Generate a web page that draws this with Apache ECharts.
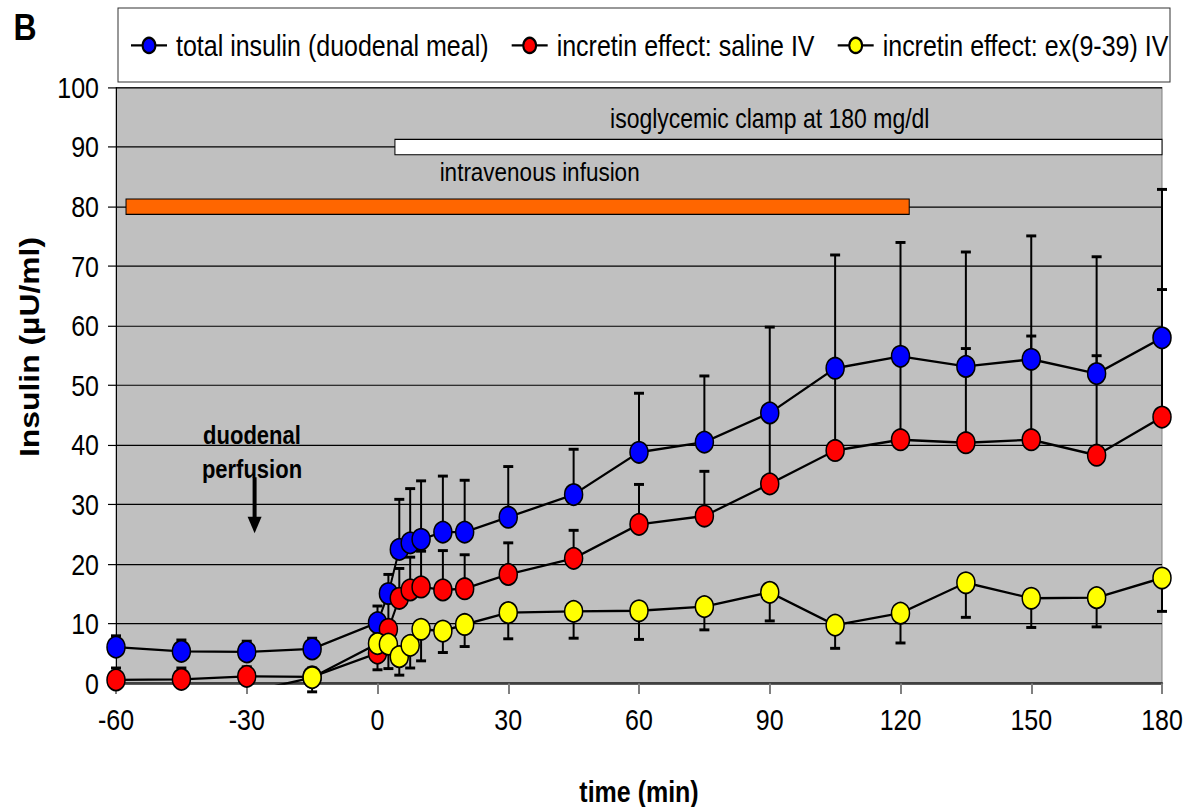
<!DOCTYPE html>
<html>
<head>
<meta charset="utf-8">
<script src="https://cdn.jsdelivr.net/npm/echarts@6/dist/echarts.min.js"></script>
<style>
  html, body { margin: 0; padding: 0; background: #fff; overflow: hidden; }
  #wrap { width: 1187px; height: 807px; overflow: hidden; position: relative; }
  #chart { width: 1187px; transform-origin: 0 0; }
</style>
</head>
<body>
<div id="wrap"><div id="chart"></div></div>
<script>
// Sampling times (min) relative to the start of the duodenal perfusion
const times = [-60, -45, -30, -15, 0, 2.5, 5, 7.5, 10, 15, 20, 30, 45, 60, 75, 90, 105, 120, 135, 150, 165, 180];

// Total insulin after the duodenal meal (µU/ml) with SEM (upper bars)
const totalInsulin = [6.1, 5.4, 5.3, 5.8, 10.2, 15.1, 22.5, 23.6, 24.2, 25.4, 25.4, 27.9, 31.7, 38.8, 40.5, 45.4, 52.9, 54.9, 53.2, 54.4, 52.0, 58.0];
const totalInsulinSem = [1.9, 1.9, 1.8, 1.8, 2.8, 3.2, 8.4, 9.1, 9.8, 9.4, 8.7, 8.5, 7.6, 9.9, 11.1, 14.4, 19.0, 19.1, 19.2, 20.7, 19.6, 24.9];

// Incretin effect with saline IV (upper bars)
const incretinSaline = [0.6, 0.7, 1.2, 1.1, 5.1, 9.1, 14.3, 15.7, 16.2, 15.7, 15.9, 18.3, 21.0, 26.7, 28.1, 33.5, 39.1, 40.9, 40.4, 40.9, 38.3, 44.7];
const incretinSalineSem = [2.0, 1.9, 1.6, 1.5, 3.0, 4.5, 5.0, 5.5, 6.0, 6.6, 5.7, 5.3, 4.7, 6.7, 7.5, 12.0, 13.8, 14.0, 15.8, 17.4, 16.7, 21.4];

// Incretin effect with exendin(9-39) IV (lower bars)
const incretinEx = [-1.7, -2.5, -1.5, 1.0, 6.7, 6.6, 4.5, 6.4, 9.1, 8.8, 9.9, 11.9, 12.1, 12.2, 12.9, 15.3, 9.8, 11.8, 16.9, 14.3, 14.4, 17.7];
const incretinExSem = [0, 0, 0, 2.4, 4.4, 4.1, 3.1, 3.8, 5.3, 3.6, 3.7, 4.4, 4.5, 4.8, 3.9, 4.8, 3.9, 5.0, 5.8, 4.9, 4.9, 5.6];

const seriesNames = ['total insulin (duodenal meal)', 'incretin effect: saline IV', 'incretin effect: ex(9-39) IV'];

// Protocol periods: [start, end] in min and the level they are drawn at
const periodNames = ['intravenous infusion', 'isoglycemic clamp at 180 mg/dl'];
const periodStart = [-57.7, 4];
const periodEnd = [122, 180];
const periodLevel = [80, 90];

const xTicks = { min: -60, max: 180, step: 30 };
const yTicks = { min: 0, max: 100, step: 10 };

// ---- layout ----
const SY = 1.18;            // the figure is drawn slightly taller than wide
const W = 1187, H = 807;
const H0 = H / SY;
const FONT = '"Liberation Sans", Arial, Helvetica, sans-serif';

const el = document.getElementById('chart');
el.style.height = H0 + 'px';
el.style.transform = 'scaleY(' + SY + ')';

const chart = echarts.init(el, null, { renderer: 'svg', width: W, height: H0 });

function errorSeries(name, vals, sems, dir, z) {
  const data = [];
  times.forEach((t, i) => {
    if (sems[i] > 0) data.push([t, vals[i], vals[i] + dir * sems[i]]);
  });
  return {
    type: 'custom',
    name: name + ' SEM',
    data: data,
    encode: { x: 0, y: [1, 2] },
    z: z,
    silent: true,
    renderItem: (p, api) => {
      const a = api.coord([api.value(0), api.value(1)]);
      const b = api.coord([api.value(0), api.value(2)]);
      const c = 5;
      return {
        type: 'group',
        children: [
          { type: 'line', shape: { x1: a[0], y1: a[1], x2: b[0], y2: b[1] }, style: { stroke: '#000', lineWidth: 2 } },
          { type: 'line', shape: { x1: b[0] - c, y1: b[1], x2: b[0] + c, y2: b[1] }, style: { stroke: '#000', lineWidth: 2.5 } }
        ]
      };
    }
  };
}

function lineSeries(name, vals, color, z) {
  return {
    type: 'line',
    name: name,
    data: times.map((t, i) => [t, vals[i]]),
    symbol: 'circle',
    symbolSize: 18,
    clip: true,
    z: z,
    itemStyle: { color: color, borderColor: '#000', borderWidth: 1.5 },
    lineStyle: { color: '#000', width: 2 },
    emphasis: { disabled: true }
  };
}

const periodColors = ['#ff6600', '#ffffff'];

const option = {
  animation: false,
  textStyle: { fontFamily: FONT },
  grid: {
    left: 116, right: W - 1162,
    top: 87.5 / SY, bottom: H0 - 683.5 / SY,
    containLabel: false, outerBoundsMode: 'none',
    show: true, backgroundColor: '#c0c0c0', borderColor: '#808080', borderWidth: 1
  },
  legend: {
    data: seriesNames,
    left: 130, top: 46 / SY - 13,
    itemWidth: 36, itemHeight: 16, itemGap: 22,
    padding: 0,
    textStyle: { fontSize: 25, color: '#000', fontFamily: FONT, padding: [0, 0, 0, 4] },
    selectedMode: false
  },
  xAxis: {
    type: 'value', min: xTicks.min, max: xTicks.max, interval: xTicks.step,
    axisLine: { show: true, onZero: false, lineStyle: { color: '#404040', width: 2 } },
    axisTick: { show: true, length: 9, lineStyle: { color: '#808080', width: 2 } },
    axisLabel: { fontSize: 25, color: '#000', margin: 18, fontFamily: FONT },
    splitLine: { show: false },
    name: 'time (min)', nameLocation: 'middle', nameGap: 79,
    nameTextStyle: { fontSize: 25, fontWeight: 'bold', color: '#000', fontFamily: FONT }
  },
  yAxis: {
    type: 'value', min: yTicks.min, max: yTicks.max, interval: yTicks.step,
    axisLine: { show: true, onZero: false, lineStyle: { color: '#000', width: 1 } },
    axisTick: { show: true, length: 8, lineStyle: { color: '#000', width: 1 } },
    axisLabel: { fontSize: 25, color: '#000', margin: 17, fontFamily: FONT },
    splitLine: { show: true, lineStyle: { color: '#000', width: 1 } }
  },
  series: [
    {
      type: 'custom',
      name: 'periods',
      silent: true,
      z: 1,
      data: periodNames.map((n, i) => [periodStart[i], periodEnd[i], periodLevel[i], i]),
      encode: { x: [0, 1], y: 2 },
      renderItem: (p, api) => {
        const s = api.coord([api.value(0), api.value(2)]);
        const e = api.coord([api.value(1), api.value(2)]);
        const h = 13;
        return {
          type: 'rect',
          shape: { x: s[0], y: s[1] - h / 2, width: e[0] - s[0], height: h },
          style: { fill: periodColors[api.value(3)], stroke: '#000', lineWidth: 1 }
        };
      }
    },
    errorSeries(seriesNames[0], totalInsulin, totalInsulinSem, 1, 2),
    lineSeries(seriesNames[0], totalInsulin, '#0000ff', 2),
    errorSeries(seriesNames[1], incretinSaline, incretinSalineSem, 1, 2),
    lineSeries(seriesNames[1], incretinSaline, '#ff0000', 2),
    errorSeries(seriesNames[2], incretinEx, incretinExSem, -1, 2),
    lineSeries(seriesNames[2], incretinEx, '#ffff00', 2)
  ]
};

chart.setOption(option);

// Annotations anchored in data coordinates
const px = (x, y) => chart.convertToPixel({ gridIndex: 0 }, [x, y]);
const ann = [
  { text: periodNames[1], at: [90, 94.9], size: 23, weight: 'normal' },
  { text: periodNames[0], at: [37.2, 85.8], size: 22.5, weight: 'normal' },
  { text: 'duodenal', at: [-28.8, 41.8], size: 22, weight: 'bold' },
  { text: 'perfusion', at: [-28.8, 36.1], size: 22, weight: 'bold' }
];
const graphics = ann.map(a => {
  const p = px(a.at[0], a.at[1]);
  return {
    type: 'text', x: p[0], y: p[1], z: 10,
    style: { text: a.text, fill: '#000', font: a.weight + ' ' + a.size + 'px ' + FONT, textAlign: 'center', textVerticalAlign: 'middle' }
  };
});

// Arrow marking the start of the duodenal perfusion
const aTop = px(-28.2, 34.6), aTip = px(-28.2, 25.2);
const headH = 14, headW = 7;
graphics.push({
  type: 'line', z: 10,
  shape: { x1: aTop[0], y1: aTop[1], x2: aTip[0], y2: aTip[1] - headH + 1 },
  style: { stroke: '#000', lineWidth: 4 }
});
graphics.push({
  type: 'polygon', z: 10,
  shape: { points: [[aTip[0] - headW, aTip[1] - headH], [aTip[0] + headW, aTip[1] - headH], [aTip[0], aTip[1]]] },
  style: { fill: '#000' }
});

// Legend frame, panel letter and y-axis title
graphics.push({
  type: 'rect', z: 0,
  shape: { x: 118, y: 8 / SY, width: 1052, height: 74 / SY },
  style: { fill: '#fff', stroke: '#333', lineWidth: 1 }
});
graphics.push({
  type: 'text', x: 25, y: 27 / SY, z: 10,
  style: { text: 'B', fill: '#000', font: 'bold 32px ' + FONT, textAlign: 'center', textVerticalAlign: 'middle' }
});
graphics.push({
  type: 'text', x: 29, y: 347 / SY, rotation: Math.PI / 2, z: 10,
  style: { text: 'Insulin (µU/ml)', fill: '#000', font: 'bold 27px ' + FONT, textAlign: 'center', textVerticalAlign: 'middle' }
});

chart.setOption({ graphic: graphics });
</script>
</body>
</html>
